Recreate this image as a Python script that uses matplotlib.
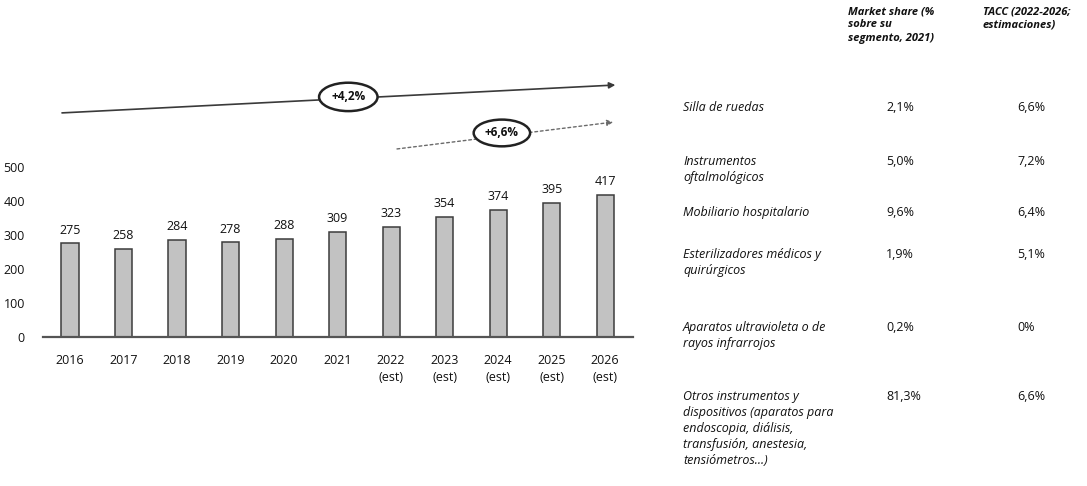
import matplotlib
matplotlib.use("Agg")
import matplotlib.pyplot as plt
import numpy as np

plt.rcParams['font.family'] = ['Open Sans', 'DejaVu Sans']

# ---- data ----
years = ["2016", "2017", "2018", "2019", "2020", "2021",
         "2022\n(est)", "2023\n(est)", "2024\n(est)", "2025\n(est)", "2026\n(est)"]
values = [275, 258, 284, 278, 288, 309, 323, 354, 374, 395, 417]
yticks = [0, 100, 200, 300, 400, 500]
cagr_total = "+4,2%"
cagr_est = "+6,6%"

segments = ["Silla de ruedas",
            "Instrumentos\noftalmológicos",
            "Mobiliario hospitalario",
            "Esterilizadores médicos y\nquirúrgicos",
            "Aparatos ultravioleta o de\nrayos infrarrojos",
            "Otros instrumentos y\ndispositivos (aparatos para\nendoscopia, diálisis,\ntransfusión, anestesia,\ntensiómetros...)"]
market_share = ["2,1%", "5,0%", "9,6%", "1,9%", "0,2%", "81,3%"]
tacc = ["6,6%", "7,2%", "6,4%", "5,1%", "0%", "6,6%"]
header_share = "Market share (%\nsobre su\nsegmento, 2021)"
header_tacc = "TACC (2022-2026;\nestimaciones)"

W, H = 1087, 486
fig = plt.figure(figsize=(W / 100, H / 100), dpi=100)
TXT = '#111111'

def fx(px):
    return px / W

def fy(py):
    return 1 - py / H

# bar axes
ax = fig.add_axes([fx(43), fy(337), fx(633) - fx(43), fy(0) - fy(337)])
x = np.arange(len(values))
bars = ax.bar(x, values, width=0.32, color='#c2c2c2', edgecolor='#3c3c3c', linewidth=1.1)
ax.bar_label(bars, labels=[str(v) for v in values], padding=5, fontsize=9, color=TXT)
ax.set_xlim(-0.505, 10.52)
ax.set_ylim(0, 991)
ax.set_yticks(yticks)
ax.set_xticks(x)
ax.set_xticklabels(years, fontsize=9, linespacing=1.45, color=TXT)
ax.tick_params(axis='both', length=0)
ax.tick_params(axis='y', pad=13, labelsize=9, labelcolor=TXT)
ax.tick_params(axis='x', pad=12)
for s in ['top', 'right', 'left']:
    ax.spines[s].set_visible(False)
ax.spines['bottom'].set_color('#555555')
ax.spines['bottom'].set_linewidth(1.6)

# growth arrows
ax.annotate("", xy=(10.19, 741), xytext=(-0.15, 659),
            arrowprops=dict(arrowstyle='-|>', color='#3a3a3a', lw=1.2, mutation_scale=9,
                            shrinkA=0, shrinkB=0))
ax.annotate("", xy=(10.15, 632), xytext=(6.11, 553),
            arrowprops=dict(arrowstyle='-|>', color='#6a6a6a', lw=1.0, linestyle=(0, (2, 2)),
                            mutation_scale=9, shrinkA=0, shrinkB=0))
ax.text(5.2, 706, cagr_total, ha='center', va='center', fontsize=8.5, fontweight='bold',
        color=TXT,
        bbox=dict(boxstyle='ellipse,pad=0.3', fc='white', ec='#222222', lw=1.8))
ax.text(8.07, 600, cagr_est, ha='center', va='center', fontsize=8.5, fontweight='bold',
        color=TXT,
        bbox=dict(boxstyle='ellipse,pad=0.25', fc='white', ec='#222222', lw=1.8))

# table on the right
fig.text(fx(848), fy(6), header_share, ha='left', va='top', fontsize=8, fontweight='bold',
         style='italic', linespacing=1.3, color=TXT)
fig.text(fx(983), fy(6), header_tacc, ha='left', va='top', fontsize=8, fontweight='bold',
         style='italic', linespacing=1.3, color=TXT)

row_tops = [101, 155, 206, 248, 321, 390]
for seg, ms, tc, top in zip(segments, market_share, tacc, row_tops):
    fig.text(fx(683), fy(top), seg, ha='left', va='top', fontsize=9, style='italic',
             linespacing=1.3, color=TXT)
    fig.text(fx(886), fy(top), ms, ha='left', va='top', fontsize=9, color=TXT)
    fig.text(fx(1017), fy(top), tc, ha='left', va='top', fontsize=9, color=TXT)

fig.savefig("out.png", dpi=100)
